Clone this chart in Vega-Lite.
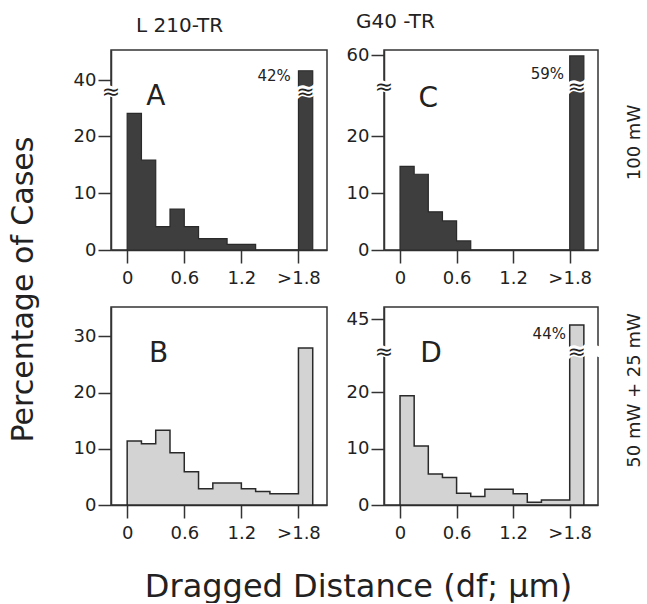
{
  "$schema": "https://vega.github.io/schema/vega-lite/v6.json",
  "padding": {"left": 7, "top": 11, "right": 0, "bottom": 0},
  "datasets": {
    "hist": [
      {"panel": "A", "x0": 0.0, "x1": 0.15, "pct": 24.0},
      {"panel": "A", "x0": 0.15, "x1": 0.3, "pct": 15.8},
      {"panel": "A", "x0": 0.3, "x1": 0.45, "pct": 4.1},
      {"panel": "A", "x0": 0.45, "x1": 0.6, "pct": 7.2},
      {"panel": "A", "x0": 0.6, "x1": 0.75, "pct": 4.1},
      {"panel": "A", "x0": 0.75, "x1": 0.9, "pct": 2.0},
      {"panel": "A", "x0": 0.9, "x1": 1.05, "pct": 2.0},
      {"panel": "A", "x0": 1.05, "x1": 1.2, "pct": 1.0},
      {"panel": "A", "x0": 1.2, "x1": 1.35, "pct": 1.0},
      {"panel": "A", "x0": 1.35, "x1": 1.5, "pct": 0},
      {"panel": "A", "x0": 1.5, "x1": 1.65, "pct": 0},
      {"panel": "A", "x0": 1.65, "x1": 1.8, "pct": 0},
      {"panel": "A", "x0": 1.8, "x1": 1.95, "pct": 42},
      {"panel": "C", "x0": 0.0, "x1": 0.15, "pct": 14.7},
      {"panel": "C", "x0": 0.15, "x1": 0.3, "pct": 13.3},
      {"panel": "C", "x0": 0.3, "x1": 0.45, "pct": 6.7},
      {"panel": "C", "x0": 0.45, "x1": 0.6, "pct": 5.1},
      {"panel": "C", "x0": 0.6, "x1": 0.75, "pct": 1.6},
      {"panel": "C", "x0": 0.75, "x1": 0.9, "pct": 0},
      {"panel": "C", "x0": 0.9, "x1": 1.05, "pct": 0},
      {"panel": "C", "x0": 1.05, "x1": 1.2, "pct": 0},
      {"panel": "C", "x0": 1.2, "x1": 1.35, "pct": 0},
      {"panel": "C", "x0": 1.35, "x1": 1.5, "pct": 0},
      {"panel": "C", "x0": 1.5, "x1": 1.65, "pct": 0},
      {"panel": "C", "x0": 1.65, "x1": 1.8, "pct": 0},
      {"panel": "C", "x0": 1.8, "x1": 1.95, "pct": 59},
      {"panel": "B", "x0": 0.0, "x1": 0.15, "pct": 11.4},
      {"panel": "B", "x0": 0.15, "x1": 0.3, "pct": 10.9},
      {"panel": "B", "x0": 0.3, "x1": 0.45, "pct": 13.3},
      {"panel": "B", "x0": 0.45, "x1": 0.6, "pct": 9.3},
      {"panel": "B", "x0": 0.6, "x1": 0.75, "pct": 5.9},
      {"panel": "B", "x0": 0.75, "x1": 0.9, "pct": 2.9},
      {"panel": "B", "x0": 0.9, "x1": 1.05, "pct": 3.9},
      {"panel": "B", "x0": 1.05, "x1": 1.2, "pct": 3.9},
      {"panel": "B", "x0": 1.2, "x1": 1.35, "pct": 2.9},
      {"panel": "B", "x0": 1.35, "x1": 1.5, "pct": 2.4},
      {"panel": "B", "x0": 1.5, "x1": 1.65, "pct": 2.0},
      {"panel": "B", "x0": 1.65, "x1": 1.8, "pct": 2.0},
      {"panel": "B", "x0": 1.8, "x1": 1.95, "pct": 27.9},
      {"panel": "D", "x0": 0.0, "x1": 0.15, "pct": 19.4},
      {"panel": "D", "x0": 0.15, "x1": 0.3, "pct": 10.5},
      {"panel": "D", "x0": 0.3, "x1": 0.45, "pct": 5.5},
      {"panel": "D", "x0": 0.45, "x1": 0.6, "pct": 4.9},
      {"panel": "D", "x0": 0.6, "x1": 0.75, "pct": 2.1},
      {"panel": "D", "x0": 0.75, "x1": 0.9, "pct": 1.5},
      {"panel": "D", "x0": 0.9, "x1": 1.05, "pct": 2.8},
      {"panel": "D", "x0": 1.05, "x1": 1.2, "pct": 2.8},
      {"panel": "D", "x0": 1.2, "x1": 1.35, "pct": 2.0},
      {"panel": "D", "x0": 1.35, "x1": 1.5, "pct": 0.5},
      {"panel": "D", "x0": 1.5, "x1": 1.65, "pct": 0.9},
      {"panel": "D", "x0": 1.65, "x1": 1.8, "pct": 0.9},
      {"panel": "D", "x0": 1.8, "x1": 1.95, "pct": 44}
    ]
  },
  "columns": 2,
  "bounds": "flush",
  "spacing": {"row": 57, "column": 57},
  "concat": [
    {
      "width": 216, "height": 200,
      "title": {"text": "L 210-TR", "anchor": "start", "frame": "group", "dx": 25, "offset": 14},
      "resolve": {"axis": {"x": "independent", "y": "independent"}},
      "layer": [
        {
          "data": {"name": "hist"},
          "transform": [{"filter": "datum.panel === 'A'"}, {"fold": ["x0", "x1"], "as": ["edge", "x"]}],
          "mark": {"type": "area", "color": "#3e3e3e", "stroke": "#2a2a2a", "strokeWidth": 1.2},
          "encoding": {
            "x": {"field": "x", "type": "quantitative", "scale": {"domain": [-0.17, 2.1], "nice": false, "zero": false},
                  "axis": {"values": [0, 0.6, 1.2, 1.8], "labelExpr": "datum.value >= 1.8 ? '>1.8' : datum.value == 0 ? '0' : format(datum.value, '.1f')", "title": null}},
            "y": {"field": "pct", "type": "quantitative", "stack": null,
                  "scale": {"domain": [0, 29.5, 40, 46.5], "range": [200, 32, 30, 0], "nice": false, "zero": false},
                  "axis": {"values": [0, 10, 20, 40], "title": "Percentage of Cases", "titleFontSize": 30, "titleY": 239, "titlePadding": 35}},
            "order": {"value": null}
          }
        },
        {"data": {"values": [{}]}, "mark": {"type": "text", "text": "≈", "fontSize": 24, "fontWeight": "bold", "color": "white", "stroke": "white", "strokeWidth": 3},
         "encoding": {"x": {"datum": -0.17, "type": "quantitative", "axis": null}, "y": {"datum": 27.7, "type": "quantitative", "axis": null}}},
        {"data": {"values": [{}]}, "mark": {"type": "text", "text": "≈", "fontSize": 22, "color": "#222"},
         "encoding": {"x": {"datum": -0.17, "type": "quantitative", "axis": null}, "y": {"datum": 27.7, "type": "quantitative", "axis": null}}},
        {"data": {"values": [{}]}, "mark": {"type": "text", "text": "≈", "fontSize": 24, "fontWeight": "bold", "color": "white", "stroke": "white", "strokeWidth": 3},
         "encoding": {"x": {"datum": 1.875, "type": "quantitative", "axis": null}, "y": {"datum": 27.7, "type": "quantitative", "axis": null}}},
        {"data": {"values": [{}]}, "mark": {"type": "text", "text": "≈", "fontSize": 22, "color": "#222"},
         "encoding": {"x": {"datum": 1.875, "type": "quantitative", "axis": null}, "y": {"datum": 27.7, "type": "quantitative", "axis": null}}},
        {"data": {"values": [{}]}, "mark": {"type": "text", "text": "A", "fontSize": 28, "color": "#222"},
         "encoding": {"x": {"datum": 0.3, "type": "quantitative", "axis": null}, "y": {"datum": 26.8, "type": "quantitative", "axis": null}}},
        {"data": {"values": [{}]}, "mark": {"type": "text", "text": "42%", "fontSize": 15, "align": "right", "color": "#222"},
         "encoding": {"x": {"datum": 1.72, "type": "quantitative", "axis": null}, "y": {"datum": 40.9, "type": "quantitative", "axis": null}}}
      ]
    },
    {
      "width": 214, "height": 200,
      "title": {"text": "G40 -TR", "anchor": "start", "frame": "group", "dx": -28, "offset": 14},
      "resolve": {"axis": {"x": "independent", "y": "independent"}},
      "layer": [
        {
          "data": {"name": "hist"},
          "transform": [{"filter": "datum.panel === 'C'"}, {"fold": ["x0", "x1"], "as": ["edge", "x"]}],
          "mark": {"type": "area", "color": "#3e3e3e", "stroke": "#2a2a2a", "strokeWidth": 1.2},
          "encoding": {
            "x": {"field": "x", "type": "quantitative", "scale": {"domain": [-0.17, 2.1], "nice": false, "zero": false},
                  "axis": {"values": [0, 0.6, 1.2, 1.8], "labelExpr": "datum.value >= 1.8 ? '>1.8' : datum.value == 0 ? '0' : format(datum.value, '.1f')", "title": null}},
            "y": {"field": "pct", "type": "quantitative", "stack": null,
                  "scale": {"domain": [0, 29.5, 60, 65], "range": [200, 32, 5, 0], "nice": false, "zero": false},
                  "axis": {"values": [0, 10, 20, 60], "title": null}},
            "order": {"value": null}
          }
        },
        {"data": {"values": [{}]}, "mark": {"type": "text", "text": "≈", "fontSize": 24, "fontWeight": "bold", "color": "white", "stroke": "white", "strokeWidth": 3},
         "encoding": {"x": {"datum": -0.17, "type": "quantitative", "axis": null}, "y": {"datum": 28.6, "type": "quantitative", "axis": null}}},
        {"data": {"values": [{}]}, "mark": {"type": "text", "text": "≈", "fontSize": 22, "color": "#222"},
         "encoding": {"x": {"datum": -0.17, "type": "quantitative", "axis": null}, "y": {"datum": 28.6, "type": "quantitative", "axis": null}}},
        {"data": {"values": [{}]}, "mark": {"type": "text", "text": "≈", "fontSize": 24, "fontWeight": "bold", "color": "white", "stroke": "white", "strokeWidth": 3},
         "encoding": {"x": {"datum": 1.875, "type": "quantitative", "axis": null}, "y": {"datum": 28.6, "type": "quantitative",
           "axis": {"orient": "right", "title": "100 mW", "labels": false, "ticks": false, "domain": false, "titleAngle": 270, "titleBaseline": "middle", "titlePadding": 36, "titleY": 92, "titleFontSize": 18}}}},
        {"data": {"values": [{}]}, "mark": {"type": "text", "text": "≈", "fontSize": 22, "color": "#222"},
         "encoding": {"x": {"datum": 1.875, "type": "quantitative", "axis": null}, "y": {"datum": 28.6, "type": "quantitative", "axis": null}}},
        {"data": {"values": [{}]}, "mark": {"type": "text", "text": "C", "fontSize": 28, "color": "#222"},
         "encoding": {"x": {"datum": 0.3, "type": "quantitative", "axis": null}, "y": {"datum": 26.5, "type": "quantitative", "axis": null}}},
        {"data": {"values": [{}]}, "mark": {"type": "text", "text": "59%", "fontSize": 15, "align": "right", "color": "#222"},
         "encoding": {"x": {"datum": 1.74, "type": "quantitative", "axis": null}, "y": {"datum": 38.5, "type": "quantitative", "axis": null}}}
      ]
    },
    {
      "width": 216, "height": 198,
      "resolve": {"axis": {"x": "independent", "y": "independent"}},
      "layer": [
        {
          "data": {"name": "hist"},
          "transform": [{"filter": "datum.panel === 'B'"}, {"fold": ["x0", "x1"], "as": ["edge", "x"]}],
          "mark": {"type": "area", "color": "#d3d3d3", "stroke": "#2a2a2a", "strokeWidth": 1.5},
          "encoding": {
            "x": {"field": "x", "type": "quantitative", "scale": {"domain": [-0.17, 2.1], "nice": false, "zero": false},
                  "axis": {"values": [0, 0.6, 1.2, 1.8], "labelExpr": "datum.value >= 1.8 ? '>1.8' : datum.value == 0 ? '0' : format(datum.value, '.1f')",
                           "title": "Dragged Distance (df; μm)", "titleFontSize": 32, "titleX": 247, "titlePadding": 29}},
            "y": {"field": "pct", "type": "quantitative", "stack": null,
                  "scale": {"domain": [0, 35.2], "nice": false, "zero": false},
                  "axis": {"values": [0, 10, 20, 30], "title": null}},
            "order": {"value": null}
          }
        },
        {"data": {"values": [{}]}, "mark": {"type": "text", "text": "B", "fontSize": 28, "color": "#222"},
         "encoding": {"x": {"datum": 0.33, "type": "quantitative", "axis": null}, "y": {"datum": 26.8, "type": "quantitative", "axis": null}}}
      ]
    },
    {
      "width": 214, "height": 198,
      "resolve": {"axis": {"x": "independent", "y": "independent"}},
      "layer": [
        {
          "data": {"name": "hist"},
          "transform": [{"filter": "datum.panel === 'D'"}, {"fold": ["x0", "x1"], "as": ["edge", "x"]}],
          "mark": {"type": "area", "color": "#d3d3d3", "stroke": "#2a2a2a", "strokeWidth": 1.5},
          "encoding": {
            "x": {"field": "x", "type": "quantitative", "scale": {"domain": [-0.17, 2.1], "nice": false, "zero": false},
                  "axis": {"values": [0, 0.6, 1.2, 1.8], "labelExpr": "datum.value >= 1.8 ? '>1.8' : datum.value == 0 ? '0' : format(datum.value, '.1f')", "title": null}},
            "y": {"field": "pct", "type": "quantitative", "stack": null,
                  "scale": {"domain": [0, 29.5, 43, 45, 47], "range": [198, 32, 24, 12, 0], "nice": false, "zero": false},
                  "axis": {"values": [0, 10, 20, 45], "title": null}},
            "order": {"value": null}
          }
        },
        {"data": {"values": [{}]}, "mark": {"type": "text", "text": "≈", "fontSize": 24, "fontWeight": "bold", "color": "white", "stroke": "white", "strokeWidth": 3},
         "encoding": {"x": {"datum": -0.17, "type": "quantitative", "axis": null}, "y": {"datum": 27.2, "type": "quantitative", "axis": null}}},
        {"data": {"values": [{}]}, "mark": {"type": "text", "text": "≈", "fontSize": 22, "color": "#222"},
         "encoding": {"x": {"datum": -0.17, "type": "quantitative", "axis": null}, "y": {"datum": 27.2, "type": "quantitative", "axis": null}}},
        {"data": {"values": [{}]}, "mark": {"type": "text", "text": "≈", "fontSize": 24, "fontWeight": "bold", "color": "white", "stroke": "white", "strokeWidth": 3},
         "encoding": {"x": {"datum": 2.1, "type": "quantitative", "axis": null}, "y": {"datum": 27.2, "type": "quantitative", "axis": null}}},
        {"data": {"values": [{}]}, "mark": {"type": "text", "text": "≈", "fontSize": 24, "fontWeight": "bold", "color": "white", "stroke": "white", "strokeWidth": 3},
         "encoding": {"x": {"datum": 1.875, "type": "quantitative", "axis": null}, "y": {"datum": 27.2, "type": "quantitative",
           "axis": {"orient": "right", "title": "50 mW + 25 mW", "labels": false, "ticks": false, "domain": false, "titleAngle": 270, "titleBaseline": "middle", "titlePadding": 36, "titleY": 83, "titleFontSize": 18}}}},
        {"data": {"values": [{}]}, "mark": {"type": "text", "text": "≈", "fontSize": 22, "color": "#222"},
         "encoding": {"x": {"datum": 1.875, "type": "quantitative", "axis": null}, "y": {"datum": 27.2, "type": "quantitative", "axis": null}}},
        {"data": {"values": [{}]}, "mark": {"type": "text", "text": "D", "fontSize": 28, "color": "#222"},
         "encoding": {"x": {"datum": 0.33, "type": "quantitative", "axis": null}, "y": {"datum": 26.8, "type": "quantitative", "axis": null}}},
        {"data": {"values": [{}]}, "mark": {"type": "text", "text": "44%", "fontSize": 15, "align": "right", "color": "#222"},
         "encoding": {"x": {"datum": 1.76, "type": "quantitative", "axis": null}, "y": {"datum": 37.9, "type": "quantitative", "axis": null}}}
      ]
    }
  ],
  "config": {
    "font": "DejaVu Sans",
    "view": {"stroke": "#333", "strokeWidth": 1.5},
    "axis": {"grid": false, "domainColor": "#333", "domainWidth": 1.5, "tickColor": "#333", "tickWidth": 1.5, "tickSize": 13,
             "labelFont": "DejaVu Sans", "labelFontSize": 18, "labelColor": "#222",
             "titleFont": "DejaVu Sans", "titleFontWeight": "normal", "titleColor": "#222"},
    "axisX": {"labelPadding": 6},
    "axisY": {"labelPadding": 2},
    "title": {"font": "DejaVu Sans", "fontSize": 20, "fontWeight": "normal", "color": "#222"}
  }
}
